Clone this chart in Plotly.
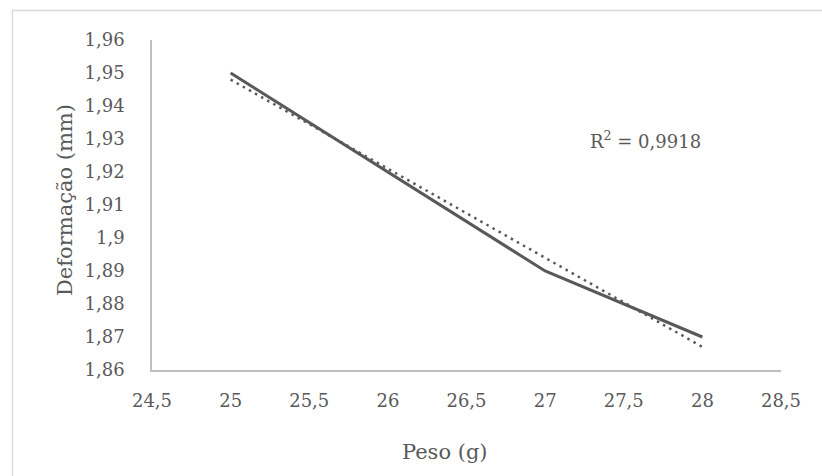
import numpy as np
import plotly.graph_objects as go

# Measured data
peso = [25, 26, 27, 28]
deformacao = [1.95, 1.92, 1.89, 1.87]

# Axis ticks
x_ticks = [24.5, 25, 25.5, 26, 26.5, 27, 27.5, 28, 28.5]
x_ticktext = ["24,5", "25", "25,5", "26", "26,5", "27", "27,5", "28", "28,5"]
y_ticks = [1.86, 1.87, 1.88, 1.89, 1.90, 1.91, 1.92, 1.93, 1.94, 1.95, 1.96]
y_ticktext = ["1,86", "1,87", "1,88", "1,89", "1,9", "1,91", "1,92", "1,93", "1,94", "1,95", "1,96"]

# Linear trend line and coefficient of determination
slope, intercept = np.polyfit(peso, deformacao, 1)
fit = [slope * p + intercept for p in peso]
y_arr = np.array(deformacao)
ss_res = float(np.sum((y_arr - np.array(fit)) ** 2))
ss_tot = float(np.sum((y_arr - y_arr.mean()) ** 2))
r2 = 1 - ss_res / ss_tot
r2_text = f"R<sup>2</sup> = {r2:.4f}".replace(".", ",")

LINE = "#595959"
TEXT = "#595959"
FONT = "DejaVu Serif"

W, H = 822, 476
L, R, T, B = 152, 41, 40, 106
PW, PH = W - L - R, H - T - B

fig = go.Figure()
fig.add_trace(go.Scatter(
    x=peso, y=deformacao, mode="lines",
    line=dict(color=LINE, width=3), showlegend=False,
))
fig.add_trace(go.Scatter(
    x=[peso[0], peso[-1]], y=[fit[0], fit[-1]], mode="lines",
    line=dict(color=LINE, width=2.5, dash="2.5px,4.5px"), showlegend=False,
))

fig.add_annotation(
    x=27.27, y=1.9297, xref="x", yref="y", text=r2_text,
    showarrow=False, xanchor="left", yanchor="middle",
    font=dict(family=FONT, size=18, color=TEXT),
)

# Axis titles
fig.add_annotation(
    x=(445 - L) / PW, y=-(452 - T - PH) / PH, xref="paper", yref="paper",
    text="Peso (g)", showarrow=False, xanchor="center", yanchor="middle",
    font=dict(family=FONT, size=21, color=TEXT),
)
fig.add_annotation(
    x=-(L - 65) / PW, y=1 - (200 - T) / PH, xref="paper", yref="paper",
    text="Deformação (mm)", textangle=-90, showarrow=False,
    xanchor="center", yanchor="middle",
    font=dict(family=FONT, size=21, color=TEXT),
)

# Outer chart border
fig.add_shape(
    type="rect", xref="paper", yref="paper",
    x0=-(L - 12.5) / PW, x1=1.2, y0=-0.5, y1=1 + (T - 10.5) / PH,
    line=dict(color="#d9d9d9", width=1.3), fillcolor="rgba(0,0,0,0)", layer="below",
)

fig.update_layout(
    width=W, height=H,
    margin=dict(l=L, r=R, t=T, b=B),
    paper_bgcolor="white", plot_bgcolor="white",
    font=dict(family=FONT, size=18, color=TEXT),
    separators=",.",
)
fig.update_xaxes(
    range=[24.5, 28.5], tickvals=x_ticks, ticktext=x_ticktext,
    showgrid=False, zeroline=False,
    showline=True, linecolor="#bfbfbf", linewidth=1.5,
    ticks="", ticklabelstandoff=14,
    tickfont=dict(family=FONT, size=18, color=TEXT),
)
fig.update_yaxes(
    range=[1.86, 1.96], tickvals=y_ticks, ticktext=y_ticktext,
    showgrid=False, zeroline=False,
    showline=True, linecolor="#bfbfbf", linewidth=1.5,
    ticks="", ticklabelstandoff=22,
    tickfont=dict(family=FONT, size=18, color=TEXT),
)

fig.write_html("out.html")
